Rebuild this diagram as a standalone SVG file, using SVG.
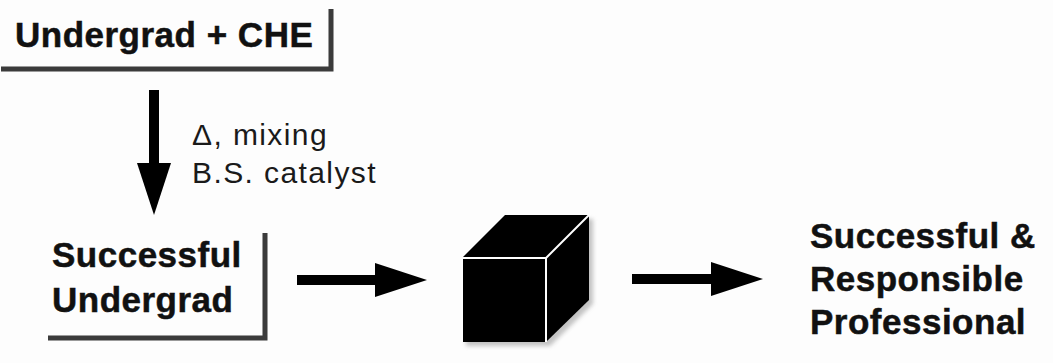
<svg xmlns="http://www.w3.org/2000/svg" width="1053" height="363" viewBox="0 0 1053 363">
  <style>
    .bold { font-family: "Liberation Sans", Arial, Helvetica, sans-serif; font-weight: bold; font-size: 35px; fill: #111; stroke: #111; stroke-width: 0.5px; letter-spacing: 0.5px; }
    .reg { font-family: "Liberation Sans", Arial, Helvetica, sans-serif; font-size: 30px; fill: #1a1a1a; letter-spacing: 1.4px; }
    .shadow { fill: none; stroke: #3a3a3a; stroke-width: 5; filter: url(#soft); }
    .conn { stroke: #000; stroke-width: 10; fill: none; marker-end: url(#head); }
    .edge { stroke: #fff; stroke-width: 2; fill: none; }
  </style>
  <defs>
    <filter id="soft" x="-5%" y="-50%" width="110%" height="200%">
      <feGaussianBlur stdDeviation="0.7"/>
    </filter>
    <filter id="cubeShadow" x="-20%" y="-20%" width="140%" height="140%">
      <feGaussianBlur stdDeviation="2"/>
    </filter>
    <marker id="head" markerUnits="userSpaceOnUse" markerWidth="52" markerHeight="36" viewBox="0 0 52 36" refX="2" refY="18" orient="auto">
      <path d="M0,1 L52,18 L0,35 Z" fill="#000"/>
    </marker>
  </defs>
  <rect width="1053" height="363" fill="#fdfdfd"/>

  <g id="node-undergrad-che">
    <polyline class="shadow" points="1,69 331,69 331,9"/>
    <text class="bold" x="15" y="47">Undergrad + CHE</text>
  </g>

  <g id="node-successful-undergrad">
    <polyline class="shadow" points="48,338 265,338 265,233"/>
    <text class="bold" x="52" y="267">Successful</text>
    <text class="bold" x="52" y="312">Undergrad</text>
  </g>

  <g id="node-black-box">
    <polygon points="466,262 509,219 593,219 593,304 550,346 466,346" fill="#888" opacity="0.5" filter="url(#cubeShadow)"/>
    <polygon points="462,258 505,215 589,215 589,300 546,342 462,342" fill="#000"/>
    <polyline class="edge" points="462,342 462,258 546,258 546,342"/>
    <line class="edge" x1="546" y1="258" x2="589" y2="215"/>
  </g>

  <g id="node-professional">
    <line class="shadow" x1="795" y1="359" x2="1053" y2="359"/>
    <text class="bold" x="810" y="248">Successful &amp;</text>
    <text class="bold" x="810" y="291">Responsible</text>
    <text class="bold" x="810" y="334">Professional</text>
  </g>

  <g id="connectors">
    <line class="conn" x1="154" y1="90" x2="154" y2="165"/>
    <line class="conn" x1="297" y1="280" x2="377" y2="280"/>
    <line class="conn" x1="632" y1="279" x2="713" y2="279"/>
    <g id="label-process">
      <text class="reg" x="192" y="145">Δ, mixing</text>
      <text class="reg" x="192" y="183">B.S. catalyst</text>
    </g>
  </g>
</svg>
